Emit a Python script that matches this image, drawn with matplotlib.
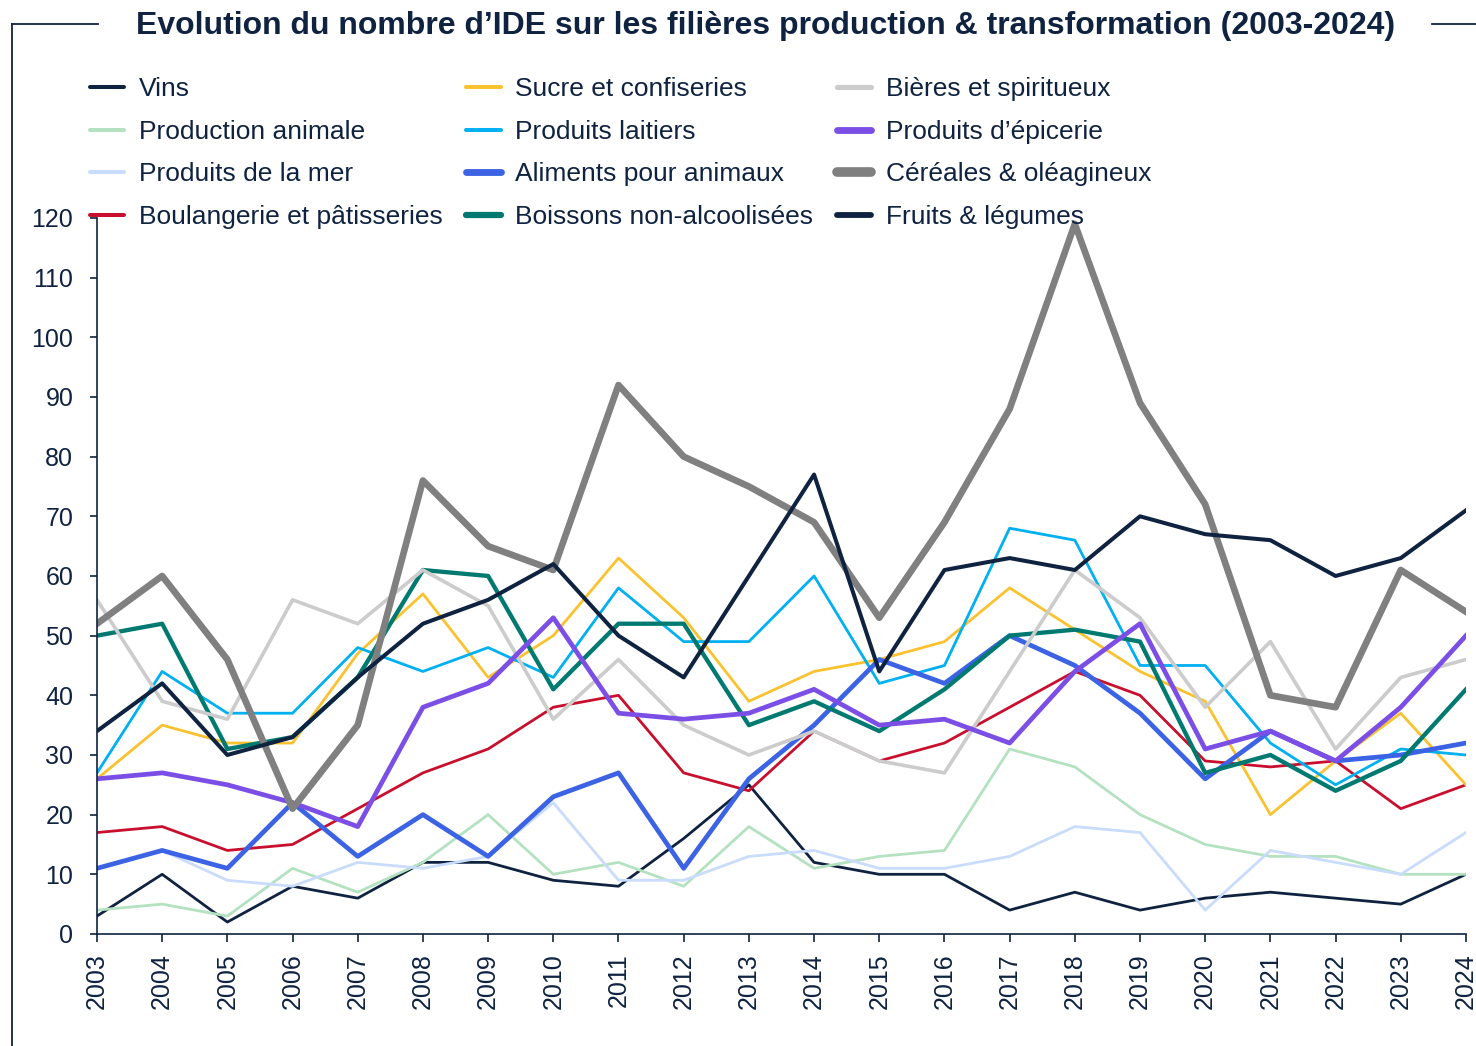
import matplotlib
matplotlib.use("Agg")
import matplotlib.pyplot as plt
from matplotlib.lines import Line2D

years = list(range(2003, 2025))

vins = [3, 10, 2, 8, 6, 12, 12, 9, 8, 16, 25, 12, 10, 10, 4, 7, 4, 6, 7, 6, 5, 10]
production_animale = [4, 5, 3, 11, 7, 12, 20, 10, 12, 8, 18, 11, 13, 14, 31, 28, 20, 15, 13, 13, 10, 10]
produits_mer = [11, 14, 9, 8, 12, 11, 13, 22, 9, 9, 13, 14, 11, 11, 13, 18, 17, 4, 14, 12, 10, 17]
boulangerie = [17, 18, 14, 15, 21, 27, 31, 38, 40, 27, 24, 34, 29, 32, 38, 44, 40, 29, 28, 29, 21, 25]
sucre = [26, 35, 32, 32, 47, 57, 43, 50, 63, 53, 39, 44, 46, 49, 58, 51, 44, 39, 20, 29, 37, 25]
laitiers = [27, 44, 37, 37, 48, 44, 48, 43, 58, 49, 49, 60, 42, 45, 68, 66, 45, 45, 32, 25, 31, 30]
aliments_animaux = [11, 14, 11, 22, 13, 20, 13, 23, 27, 11, 26, 35, 46, 42, 50, 45, 37, 26, 34, 29, 30, 32]
boissons = [50, 52, 31, 33, 43, 61, 60, 41, 52, 52, 35, 39, 34, 41, 50, 51, 49, 27, 30, 24, 29, 41]
bieres = [56, 39, 36, 56, 52, 61, 55, 36, 46, 35, 30, 34, 29, 27, 44, 61, 53, 38, 49, 31, 43, 46]
epicerie = [26, 27, 25, 22, 18, 38, 42, 53, 37, 36, 37, 41, 35, 36, 32, 44, 52, 31, 34, 29, 38, 50]
cereales = [52, 60, 46, 21, 35, 76, 65, 61, 92, 80, 75, 69, 53, 69, 88, 119, 89, 72, 40, 38, 61, 54]
fruits_legumes = [34, 42, 30, 33, 43, 52, 56, 62, 50, 43, 60, 77, 44, 61, 63, 61, 70, 67, 66, 60, 63, 71]

navy = "#0f2341"

# (label, values, colour, width) in legend order (column by column)
series = [
    ("Vins", vins, navy, 2.0),
    ("Production animale", production_animale, "#b4e2c0", 2.0),
    ("Produits de la mer", produits_mer, "#c9dcfc", 2.0),
    ("Boulangerie et pâtisseries", boulangerie, "#c8102e", 2.0),
    ("Sucre et confiseries", sucre, "#f9c22e", 2.0),
    ("Produits laitiers", laitiers, "#00b0f0", 2.0),
    ("Aliments pour animaux", aliments_animaux, "#3b63e3", 3.4),
    ("Boissons non-alcoolisées", boissons, "#007a70", 3.1),
    ("Bières et spiritueux", bieres, "#cccccc", 2.6),
    ("Produits d\u2019épicerie", epicerie, "#7b4fe6", 3.4),
    ("Céréales & oléagineux", cereales, "#808080", 4.8),
    ("Fruits & légumes", fruits_legumes, navy, 2.9),
]

plt.rcParams["font.family"] = ["Liberation Sans", "DejaVu Sans"]

fig = plt.figure(figsize=(14.76, 10.46), dpi=100)
ax = fig.add_axes([0.0657, 0.1071, 0.9275, 0.6845])

for label, values, color, lw in series:
    ax.plot(years, values, color=color, lw=lw, label=label)

ax.set_xlim(2003, 2024)
ax.set_ylim(0, 120)
ax.set_yticks(range(0, 121, 10))
ax.set_xticks(years)
ax.set_xticklabels([str(y) for y in years], rotation=90)
ax.tick_params(axis="both", colors=navy, labelcolor=navy, labelsize=18, width=1.2)
ax.tick_params(axis="y", length=5, pad=12)
ax.tick_params(axis="x", length=6, pad=8)
for side in ["top", "right"]:
    ax.spines[side].set_visible(False)
for side in ["left", "bottom"]:
    ax.spines[side].set_color(navy)
    ax.spines[side].set_linewidth(1.2)

leg = fig.legend(loc="upper left", bbox_to_anchor=(0.061, 0.926), ncol=3, frameon=False,
                 fontsize=19, handlelength=1.3, handletextpad=0.55, columnspacing=0.9,
                 labelspacing=0.7, borderpad=0, borderaxespad=0, labelcolor=navy)
# legend keys are drawn a bit heavier with rounded ends
for h in leg.legend_handles:
    h.set_linewidth(h.get_linewidth() * 1.45)
    h.set_solid_capstyle("round")

fig.text(0.519, 0.975, "Evolution du nombre d\u2019IDE sur les filières production & transformation (2003-2024)",
         ha="center", va="center", fontsize=23, fontweight="bold", color=navy)

# frame around the chart, broken by the title
fig.add_artist(Line2D([0.0081, 0.0081], [0.0, 0.977], color=navy, lw=1.3))
fig.add_artist(Line2D([0.0081, 0.0664], [0.977, 0.977], color=navy, lw=1.3))
fig.add_artist(Line2D([0.970, 1.0], [0.977, 0.977], color=navy, lw=1.3))

fig.savefig("out.png", dpi=100)
